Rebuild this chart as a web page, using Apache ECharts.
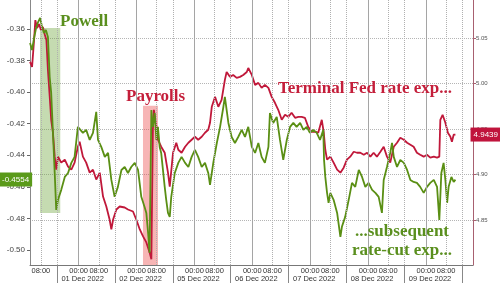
<!DOCTYPE html>
<html><head><meta charset="utf-8">
<script src="https://cdn.jsdelivr.net/npm/echarts@6/dist/echarts.min.js"></script>
<style>html,body{margin:0;padding:0;background:#fff}#c{width:500px;height:283px}</style>
</head><body><div id="c"></div>
<script>
// ---------------- data ----------------
const sessionDates = ['30 Nov 2022','01 Dec 2022','02 Dec 2022','05 Dec 2022','06 Dec 2022','07 Dec 2022','08 Dec 2022','09 Dec 2022'];
const clockLabels = ['00:00', '08:00'];
const leftTicks = [-0.50, -0.48, -0.46, -0.44, -0.42, -0.40, -0.38, -0.36];
const rightTicks = [4.85, 4.90, 4.95, 5.00, 5.05];
const lastGreen = -0.4554;
const lastRed = 4.9439;
const annotations = ['Powell', 'Payrolls', 'Terminal Fed rate exp...', '...subsequent', 'rate-cut exp...'];

// [trading hour, value]  (green = rate-cut expectations, left axis)
const greenSeries = [[12.3,-0.3689],[13.1,-0.3733],[13.9,-0.3657],[14.7,-0.3594],[15.5,-0.3556],[16.3,-0.3530],[17.0,-0.3581],[17.8,-0.3625],[18.6,-0.3606],[19.4,-0.3651],[20.1,-0.3904],[20.7,-0.4005],[21.4,-0.4258],[22.1,-0.4512],[22.7,-0.4746],[23.4,-0.4682],[24.7,-0.4619],[26.1,-0.4537],[27.4,-0.4512],[28.7,-0.4448],[30.0,-0.4410],[31.3,-0.4220],[32.0,-0.4208],[33.3,-0.4258],[34.6,-0.4239],[36.0,-0.4303],[37.3,-0.4258],[38.6,-0.4125],[39.3,-0.4303],[40.6,-0.4347],[42.0,-0.4410],[43.3,-0.4385],[44.6,-0.4556],[45.9,-0.4663],[47.2,-0.4600],[48.6,-0.4493],[49.9,-0.4474],[51.2,-0.4512],[52.5,-0.4474],[53.9,-0.4448],[55.2,-0.4493],[56.5,-0.4663],[57.8,-0.4727],[58.5,-0.4765],[59.2,-0.4891],[59.8,-0.5018],[60.5,-0.4113],[61.1,-0.4220],[61.8,-0.4132],[62.5,-0.4303],[63.1,-0.4220],[63.8,-0.4347],[64.4,-0.4385],[65.8,-0.4600],[66.4,-0.4682],[67.1,-0.4765],[67.8,-0.4790],[68.4,-0.4663],[69.8,-0.4512],[71.2,-0.4448],[72.5,-0.4410],[73.9,-0.4448],[75.2,-0.4474],[76.5,-0.4410],[77.8,-0.4366],[79.1,-0.4410],[80.5,-0.4474],[81.8,-0.4448],[83.1,-0.4512],[83.8,-0.4587],[85.1,-0.4448],[86.5,-0.4322],[87.8,-0.4220],[89.1,-0.4094],[89.7,-0.4030],[91.1,-0.4195],[92.4,-0.4284],[93.7,-0.4322],[95.0,-0.4284],[96.4,-0.4239],[97.7,-0.4284],[99.0,-0.4220],[100.4,-0.4347],[101.7,-0.4385],[103.0,-0.4322],[104.3,-0.4410],[105.6,-0.4448],[107.0,-0.4347],[107.6,-0.4132],[108.9,-0.4195],[110.3,-0.4157],[111.6,-0.4303],[112.9,-0.4429],[114.3,-0.4303],[115.6,-0.4220],[116.9,-0.4195],[118.2,-0.4220],[119.6,-0.4195],[120.9,-0.4239],[122.2,-0.4220],[123.5,-0.4258],[124.8,-0.4239],[126.2,-0.4258],[127.5,-0.4303],[128.8,-0.4239],[129.1,-0.4429],[129.6,-0.4537],[130.3,-0.4638],[130.9,-0.4701],[131.6,-0.4638],[132.9,-0.4682],[134.3,-0.4765],[135.6,-0.4917],[136.2,-0.4853],[137.5,-0.4790],[138.9,-0.4682],[140.2,-0.4575],[141.5,-0.4600],[142.9,-0.4493],[144.2,-0.4537],[145.5,-0.4600],[146.8,-0.4575],[148.2,-0.4619],[149.5,-0.4638],[150.8,-0.4663],[152.1,-0.4765],[152.8,-0.4556],[154.1,-0.4474],[155.4,-0.4385],[156.1,-0.4322],[156.8,-0.4410],[158.1,-0.4474],[159.4,-0.4429],[160.8,-0.4448],[162.1,-0.4493],[163.4,-0.4556],[164.7,-0.4569],[166.0,-0.4575],[167.3,-0.4600],[168.7,-0.4638],[170.0,-0.4600],[171.3,-0.4575],[172.7,-0.4556],[174.0,-0.4600],[174.9,-0.4809],[175.7,-0.4512],[176.6,-0.4448],[177.3,-0.4556],[178.0,-0.4701],[178.6,-0.4600],[179.7,-0.4537],[180.6,-0.4569],[181.3,-0.4554]];

// [trading hour, value]  (red = terminal Fed rate expectations, right axis)
const redSeries = [[12.3,5.0237],[13.1,5.0182],[13.9,5.0478],[14.4,5.0697],[15.1,5.0610],[15.9,5.0653],[16.6,5.0588],[17.4,5.0621],[18.2,5.0533],[18.8,5.0478],[19.4,5.0149],[20.2,4.9820],[20.7,4.9601],[21.4,4.9459],[22.1,4.9196],[22.7,4.9053],[23.4,4.9196],[24.7,4.9130],[26.1,4.9163],[27.4,4.9086],[28.7,4.9053],[30.0,4.9130],[31.3,4.9305],[32.0,4.9360],[33.3,4.9196],[34.6,4.9130],[36.0,4.9020],[37.3,4.9053],[38.6,4.8944],[40.0,4.9020],[41.3,4.8757],[42.6,4.8648],[43.9,4.8505],[44.6,4.8396],[45.3,4.8505],[46.6,4.8615],[47.9,4.8648],[49.9,4.8637],[51.2,4.8615],[53.2,4.8593],[54.5,4.8505],[55.9,4.8396],[57.2,4.8319],[58.5,4.8253],[59.8,4.8144],[60.5,4.8067],[61.1,4.9492],[61.5,4.9711],[62.5,4.9524],[63.1,4.9382],[64.4,4.9305],[65.8,4.9239],[67.1,4.9020],[67.8,4.8867],[69.1,4.9239],[70.4,4.9349],[71.2,4.9272],[72.5,4.9239],[73.9,4.9305],[75.2,4.9349],[76.5,4.9382],[77.8,4.9415],[79.1,4.9382],[80.5,4.9415],[81.8,4.9459],[83.1,4.9492],[83.8,4.9568],[84.5,4.9744],[85.8,4.9853],[87.1,4.9744],[88.4,4.9820],[89.7,5.0040],[90.4,5.0127],[91.7,5.0073],[93.0,5.0094],[94.4,5.0062],[95.7,5.0073],[97.0,5.0094],[98.4,5.0127],[99.0,5.0171],[100.4,5.0094],[101.7,4.9985],[103.0,5.0007],[104.3,4.9952],[105.6,4.9985],[107.0,4.9952],[108.3,4.9853],[109.6,4.9788],[110.9,4.9711],[112.3,4.9601],[113.6,4.9656],[114.9,4.9634],[116.2,4.9678],[117.6,4.9623],[118.9,4.9634],[120.2,4.9634],[121.5,4.9623],[122.8,4.9524],[124.2,4.9470],[125.5,4.9470],[126.8,4.9459],[128.2,4.9601],[129.0,4.9459],[129.6,4.9272],[130.3,4.9163],[131.6,4.9196],[132.9,4.9130],[134.3,4.9053],[135.6,4.9020],[136.9,4.9075],[138.2,4.9163],[139.5,4.9196],[140.9,4.9250],[142.2,4.9239],[143.5,4.9239],[144.9,4.9217],[146.2,4.9239],[147.5,4.9196],[148.8,4.9239],[150.1,4.9196],[151.5,4.9250],[152.8,4.9305],[154.1,4.9196],[155.4,4.9130],[156.8,4.9305],[158.1,4.9349],[159.4,4.9404],[160.8,4.9382],[162.1,4.9349],[163.4,4.9327],[164.7,4.9305],[166.0,4.9239],[167.3,4.9217],[168.7,4.9196],[170.0,4.9217],[171.3,4.9185],[172.7,4.9196],[174.0,4.9185],[174.9,4.9196],[175.3,4.9601],[176.2,4.9656],[177.3,4.9568],[178.3,4.9459],[179.3,4.9415],[179.9,4.9360],[180.6,4.9437],[181.3,4.9439]];

// event windows: [start hour, end hour, top value, bottom value]
const powellWindow = [16.25, 24.3, -0.3594, -0.4765];
const payrollsWindow = [57.17, 63.13, 4.9755, 4.8005];

// ---------------- scale settings ----------------
const SESSION = 23, MIDNIGHT = 8.6;
const X_MIN = 12.28, X_MAX = 188.28;
const L_MIN = -0.5095, L_MAX = -0.34163;
const R_MIN = 4.8005, R_MAX = 5.0918;

const GREEN = '#5a8f14', RED = '#c0183a';

const sepVals = [], midVals = [], eightVals = [], dateVals = [];
const labelMap = {}, dateMap = {};
for (let k = 0; k <= sessionDates.length; k++) {
  const s = k * SESSION;
  if (s > X_MIN && s < X_MAX) sepVals.push(s);
  if (k >= sessionDates.length) continue;
  const m = s + MIDNIGHT, e = m + 8;
  if (m > X_MIN && m < X_MAX) { midVals.push(m); labelMap[m.toFixed(2)] = clockLabels[0]; }
  if (e > X_MIN && e < X_MAX) { eightVals.push(e); labelMap[e.toFixed(2)] = clockLabels[1]; }
  if (k >= 1) { const d = m + 1.6; dateVals.push(d); dateMap[d.toFixed(2)] = sessionDates[k]; }
}
const clockVals = midVals.concat(eightVals).sort((a, b) => a - b);

const labelFont = 'Liberation Sans';
const serif = '"Liberation Serif", "DejaVu Serif", serif';

const chart = echarts.init(document.getElementById('c'), null, { renderer: 'canvas' });
chart.setOption({
  animation: false,
  backgroundColor: '#fff',
  grid: { left: 30, right: 27, top: 0, bottom: 18, containLabel: false },
  axisPointer: { triggerOn: 'none' },
  xAxis: [
    {
      type: 'value', min: X_MIN, max: X_MAX, position: 'bottom',
      axisLine: { show: true, lineStyle: { color: '#777', width: 1 } },
      axisTick: { show: true, customValues: sepVals, length: 18, lineStyle: { color: '#888' } },
      axisLabel: { customValues: clockVals, formatter: v => labelMap[Number(v).toFixed(2)] || '',
        fontSize: 7.5, color: '#333', margin: 2, fontFamily: labelFont },
      splitLine: { show: false }
    },
    {
      type: 'value', min: X_MIN, max: X_MAX, position: 'bottom',
      axisLine: { show: false }, axisTick: { show: false },
      axisLabel: { customValues: dateVals, formatter: v => dateMap[Number(v).toFixed(2)] || '',
        fontSize: 7.5, color: '#333', margin: 10, fontFamily: labelFont },
      splitLine: { show: false }
    }
  ],
  yAxis: [
    {
      type: 'value', position: 'left', min: L_MIN, max: L_MAX,
      axisLine: { show: true, lineStyle: { color: '#888' } },
      axisTick: { show: true, customValues: leftTicks, length: 3, lineStyle: { color: '#666' } },
      axisLabel: { customValues: leftTicks, formatter: v => Number(v).toFixed(2), fontSize: 8, color: '#444', margin: 5, fontFamily: labelFont },
      splitLine: { show: false },
      axisPointer: {
        show: true, type: 'line', value: lastGreen, status: 'show', snap: false, triggerTooltip: false,
        lineStyle: { width: 0, opacity: 0 },
        label: { show: true, formatter: () => lastGreen.toFixed(4), backgroundColor: '#5a9a1a', color: '#fff',
          fontSize: 8, padding: [3, 3, 3, 2], margin: 1, fontFamily: labelFont, borderRadius: 0 }
      }
    },
    {
      type: 'value', position: 'right', min: R_MIN, max: R_MAX,
      axisLine: { show: true, lineStyle: { color: '#a86070' } },
      axisTick: { show: true, customValues: rightTicks, length: 3, lineStyle: { color: '#a86070' } },
      axisLabel: { customValues: rightTicks, formatter: v => Number(v).toFixed(2), fontSize: 6, color: '#555', margin: 3, fontFamily: labelFont },
      splitLine: { show: true, lineStyle: { type: 'dotted', color: '#b5b5b5', width: 1 } },
      axisPointer: {
        show: true, type: 'line', value: lastRed, status: 'show', snap: false, triggerTooltip: false,
        lineStyle: { width: 0, opacity: 0 },
        label: { show: true, formatter: () => lastRed.toFixed(4), backgroundColor: '#c0143c', color: '#fff',
          fontSize: 8, padding: [3, 2, 3, 3], margin: 1, fontFamily: labelFont, borderRadius: 0 }
      }
    }
  ],
  series: [
    {
      name: 'grid', type: 'line', data: [], xAxisIndex: 0, yAxisIndex: 1, z: 1, silent: true,
      markLine: {
        silent: true, animation: false, symbol: ['none', 'none'], label: { show: false },
        data: sepVals.concat(eightVals).map(v => ({ xAxis: v, lineStyle: { type: 'dotted', color: '#b0b0b0', width: 1 } }))
          .concat(midVals.map(v => ({ xAxis: v, lineStyle: { type: 'solid', color: '#a5a5a5', width: 1 } })))
      }
    },
    {
      name: 'Terminal Fed rate', type: 'line', xAxisIndex: 0, yAxisIndex: 1, z: 3,
      data: redSeries, showSymbol: false, symbol: 'none',
      lineStyle: { color: RED, width: 1.8 }, itemStyle: { color: RED }
    },
    {
      name: 'Subsequent rate-cut', type: 'line', xAxisIndex: 0, yAxisIndex: 0, z: 4,
      data: greenSeries, showSymbol: false, symbol: 'none',
      lineStyle: { color: GREEN, width: 1.8 }, itemStyle: { color: GREEN }
    },
    {
      name: 'powell', type: 'line', data: [], xAxisIndex: 0, yAxisIndex: 0, z: 10, silent: true,
      markArea: { silent: true, itemStyle: { color: 'rgba(110,165,60,0.4)' },
        data: [[{ coord: [powellWindow[0], powellWindow[2]] }, { coord: [powellWindow[1], powellWindow[3]] }]] }
    },
    {
      name: 'payrolls', type: 'line', data: [], xAxisIndex: 0, yAxisIndex: 1, z: 10, silent: true,
      markArea: { silent: true, itemStyle: { color: 'rgba(235,70,70,0.4)' },
        data: [[{ coord: [payrollsWindow[0], payrollsWindow[2]] }, { coord: [payrollsWindow[1], payrollsWindow[3]] }]] }
    }
  ],
  graphic: [
    { type: 'text', x: 60, y: 22, z: 20, style: { text: annotations[0], fill: '#5a8f1e', font: 'bold 17px ' + serif, align: 'left', verticalAlign: 'middle', textAlign: 'left', textVerticalAlign: 'middle' } },
    { type: 'text', x: 126, y: 97, z: 20, style: { text: annotations[1], fill: '#c41e3a', font: 'bold 17px ' + serif, align: 'left', verticalAlign: 'middle', textAlign: 'left', textVerticalAlign: 'middle' } },
    { type: 'text', x: 278, y: 89, z: 20, style: { text: annotations[2], fill: '#c41e3a', font: 'bold 17px ' + serif, align: 'left', verticalAlign: 'middle', textAlign: 'left', textVerticalAlign: 'middle' } },
    { type: 'text', x: 402, y: 232, z: 20, style: { text: annotations[3], fill: '#5a8f1e', font: 'bold 17px ' + serif, align: 'center', verticalAlign: 'middle', textAlign: 'center', textVerticalAlign: 'middle' } },
    { type: 'text', x: 402, y: 251, z: 20, style: { text: annotations[4], fill: '#5a8f1e', font: 'bold 17px ' + serif, align: 'center', verticalAlign: 'middle', textAlign: 'center', textVerticalAlign: 'middle' } }
  ]
});
</script>
</body></html>
